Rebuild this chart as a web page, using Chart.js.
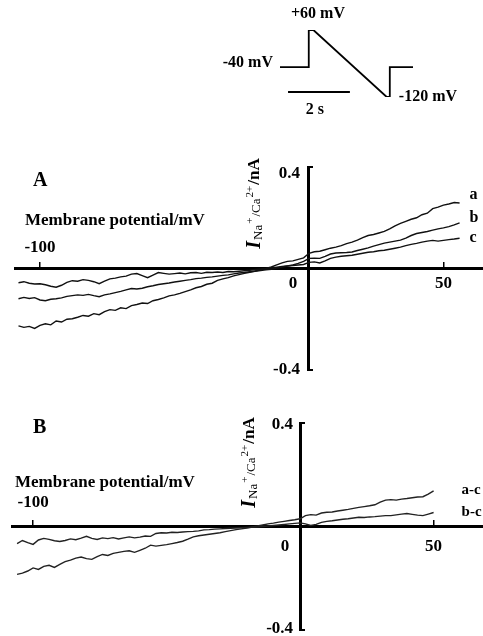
<!DOCTYPE html>
<html>
<head>
<meta charset="utf-8">
<script src="https://cdn.jsdelivr.net/npm/chart.js@4.4.0/dist/chart.umd.min.js"></script>
<style>
  body { margin: 0; background: #fff; }
  #wrap { position: relative; width: 483px; height: 636px; }
  .box { position: absolute; }
</style>
</head>
<body>
<div id="wrap">
  <div class="box" style="left:200px;top:0;width:283px;height:130px"><canvas id="protocolChart"></canvas></div>
  <div class="box" style="left:0;top:150px;width:483px;height:235px"><canvas id="chartA"></canvas></div>
  <div class="box" style="left:0;top:400px;width:483px;height:236px"><canvas id="chartB"></canvas></div>
</div>
<script>
// voltage protocol (s, mV)
var protocolTime = [0, 0.93, 0.93, 1.08, 3.45, 3.55, 3.55, 4.3];
var protocolVoltage = [-40, -40, 60, 60, -120, -120, -40, -40];
var scaleBarSeconds = 2;

var xTicks = [-100, 0, 50];
var yTicks = [-0.4, 0.4];

// panel A, membrane potential (mV)
var voltageA = [
  -108, -106, -104, -102, -100, -98, -96, -94, -92, -90,
  -88, -86, -84, -82, -80, -78, -76, -74, -72, -70,
  -68, -66, -64, -62, -60, -58, -56, -54, -52, -50,
  -48, -46, -44, -42, -40, -38, -36, -34, -32, -30,
  -28, -26, -24, -22, -20, -18, -16, -14, -12, -10,
  -8, -6, -4, -2, 0, 2, 4, 6, 8, 10,
  12, 14, 16, 18, 20, 22, 24, 26, 28, 30,
  32, 34, 36, 38, 40, 42, 44, 46, 48, 50,
  52, 54, 56
];
var currentA_a = [
  -0.226, -0.232, -0.228, -0.236, -0.224, -0.218, -0.222, -0.207, -0.211, -0.200,
  -0.198, -0.192, -0.185, -0.188, -0.178, -0.182, -0.170, -0.162, -0.165, -0.155,
  -0.158, -0.146, -0.142, -0.136, -0.138, -0.127, -0.122, -0.116, -0.108, -0.104,
  -0.098, -0.091, -0.084, -0.076, -0.071, -0.062, -0.058, -0.047, -0.041, -0.036,
  -0.029, -0.024, -0.019, -0.015, -0.010, -0.005, 0.000, 0.006, 0.014, 0.022,
  0.028, 0.030, 0.036, 0.042, 0.060, 0.066, 0.068, 0.074, 0.080, 0.084,
  0.090, 0.098, 0.104, 0.112, 0.122, 0.130, 0.134, 0.140, 0.146, 0.156,
  0.168, 0.178, 0.186, 0.194, 0.200, 0.212, 0.218, 0.236, 0.242, 0.250,
  0.254, 0.260, 0.258
];
var currentA_b = [
  -0.119, -0.114, -0.118, -0.115, -0.124, -0.127, -0.121, -0.119, -0.116, -0.110,
  -0.107, -0.104, -0.106, -0.102, -0.107, -0.111, -0.104, -0.100, -0.095, -0.090,
  -0.084, -0.079, -0.081, -0.078, -0.072, -0.068, -0.063, -0.060, -0.057, -0.053,
  -0.050, -0.047, -0.044, -0.040, -0.038, -0.035, -0.033, -0.030, -0.027, -0.025,
  -0.021, -0.018, -0.016, -0.013, -0.011, -0.008, -0.005, -0.003, 0.002, 0.006,
  0.010, 0.014, 0.020, 0.028, 0.040, 0.041, 0.040, 0.048, 0.057, 0.061,
  0.062, 0.063, 0.065, 0.071, 0.076, 0.081, 0.088, 0.094, 0.100, 0.104,
  0.108, 0.112, 0.120, 0.130, 0.138, 0.142, 0.146, 0.151, 0.156, 0.160,
  0.165, 0.172, 0.180
];
var currentA_c = [
  -0.056, -0.052, -0.058, -0.061, -0.060, -0.064, -0.070, -0.074, -0.066, -0.055,
  -0.048, -0.050, -0.044, -0.047, -0.052, -0.060, -0.050, -0.041, -0.038, -0.033,
  -0.030, -0.022, -0.020, -0.028, -0.036, -0.026, -0.016, -0.019, -0.022, -0.020,
  -0.018, -0.021, -0.017, -0.016, -0.019, -0.015, -0.016, -0.014, -0.016, -0.012,
  -0.013, -0.011, -0.009, -0.007, -0.004, -0.002, 0.000, 0.002, 0.005, 0.008,
  0.010, 0.012, 0.014, 0.016, 0.024, 0.026, 0.022, 0.030, 0.040, 0.045,
  0.048, 0.050, 0.052, 0.056, 0.060, 0.064, 0.066, 0.070, 0.072, 0.076,
  0.080, 0.084, 0.090, 0.095, 0.099, 0.104, 0.108, 0.111, 0.108, 0.111,
  0.114, 0.116, 0.119
];
var seriesLabelsA = ['a', 'b', 'c'];

// panel B, difference currents
var voltageB = [
  -106, -104, -102, -100, -98, -96, -94, -92, -90, -88,
  -86, -84, -82, -80, -78, -76, -74, -72, -70, -68,
  -66, -64, -62, -60, -58, -56, -54, -52, -50, -48,
  -46, -44, -42, -40, -38, -36, -34, -32, -30, -28,
  -26, -24, -22, -20, -18, -16, -14, -12, -10, -8,
  -6, -4, -2, 0, 2, 4, 6, 8, 10, 12,
  14, 16, 18, 20, 22, 24, 26, 28, 30, 32,
  34, 36, 38, 40, 42, 44, 46, 48, 50
];
var currentB_ac = [
  -0.185, -0.180, -0.172, -0.160, -0.166, -0.154, -0.150, -0.158, -0.146, -0.136,
  -0.130, -0.122, -0.118, -0.124, -0.127, -0.116, -0.108, -0.112, -0.104, -0.100,
  -0.096, -0.094, -0.100, -0.092, -0.084, -0.072, -0.076, -0.073, -0.070, -0.066,
  -0.062, -0.057, -0.049, -0.040, -0.036, -0.033, -0.030, -0.027, -0.024, -0.020,
  -0.016, -0.012, -0.009, -0.006, -0.002, 0.002, 0.006, 0.010, 0.013, 0.017,
  0.020, 0.023, 0.026, 0.030, 0.042, 0.046, 0.044, 0.052, 0.055, 0.056,
  0.060, 0.063, 0.066, 0.070, 0.074, 0.077, 0.080, 0.084, 0.094, 0.102,
  0.104, 0.102, 0.106, 0.108, 0.111, 0.114, 0.115, 0.125, 0.138
];
var currentB_bc = [
  -0.066, -0.054, -0.062, -0.069, -0.052, -0.046, -0.050, -0.055, -0.058, -0.054,
  -0.048, -0.051, -0.045, -0.038, -0.046, -0.050, -0.044, -0.047, -0.043, -0.048,
  -0.044, -0.040, -0.044, -0.041, -0.037, -0.038, -0.027, -0.024, -0.025, -0.022,
  -0.023, -0.021, -0.020, -0.019, -0.017, -0.013, -0.012, -0.010, -0.009, -0.008,
  -0.007, -0.006, -0.005, -0.004, -0.003, -0.002, 0.000, 0.002, 0.004, 0.006,
  0.008, 0.010, 0.012, 0.014, 0.010, 0.004, 0.008, 0.016, 0.020, 0.022,
  0.025, 0.028, 0.030, 0.033, 0.036, 0.035, 0.037, 0.038, 0.040, 0.042,
  0.042, 0.045, 0.048, 0.050, 0.047, 0.044, 0.042, 0.048, 0.054
];
var seriesLabelsB = ['a-c', 'b-c'];

var SERIF = '"Liberation Serif", "Times New Roman", serif';

function points(xs, ys) {
  return xs.map(function (v, i) { return { x: v, y: ys[i] }; });
}

function traceSet(xs, ys, label, color) {
  return { label: label, data: points(xs, ys), borderColor: color || '#111', borderWidth: 1.4, pointRadius: 0, tension: 0 };
}

// draws I_Na+/Ca2+/nA rotated
function drawCurrentTitle(ctx, cx, cy) {
  var parts = [
    { t: 'I', f: 'italic bold 20px ' + SERIF, dy: 0 },
    { t: 'Na', f: '13px ' + SERIF, dy: 4 },
    { t: '+', f: '11px ' + SERIF, dy: -5 },
    { t: '/Ca', f: '13px ' + SERIF, dy: 2 },
    { t: '2+', f: '11px ' + SERIF, dy: -5 },
    { t: '/nA', f: 'bold 17px ' + SERIF, dy: 0 }
  ];
  ctx.save();
  ctx.translate(cx, cy);
  ctx.rotate(-Math.PI / 2);
  var total = 0;
  parts.forEach(function (p) { ctx.font = p.f; p.w = ctx.measureText(p.t).width + 1; total += p.w; });
  var x = -total / 2;
  ctx.textBaseline = 'middle';
  ctx.textAlign = 'left';
  parts.forEach(function (p) { ctx.font = p.f; ctx.fillText(p.t, x, p.dy); x += p.w; });
  ctx.restore();
}

function ivDecor(cfg) {
  return {
    id: 'ivDecor',
    afterDraw: function (chart) {
      var ctx = chart.ctx, xs = chart.scales.x, ys = chart.scales.y;
      var x0 = xs.getPixelForValue(0), y0 = ys.getPixelForValue(0);
      ctx.save();
      ctx.fillStyle = '#000';
      ctx.textBaseline = 'middle';
      ctx.font = 'bold 17px ' + SERIF;
      xTicks.forEach(function (v) {
        var px = xs.getPixelForValue(v);
        ctx.textAlign = 'center';
        if (v < 0) ctx.fillText(String(v), px, y0 + cfg.aboveDy);
        else if (v === 0) ctx.fillText('0', x0 + cfg.zeroDx, y0 + cfg.belowDy);
        else ctx.fillText(String(v), px, y0 + cfg.belowDy);
      });
      ctx.textAlign = 'right';
      yTicks.forEach(function (v) {
        var py = ys.getPixelForValue(v);
        ctx.fillText(v.toFixed(1), x0 + cfg.yLabelDx, py + (v > 0 ? cfg.topDy : cfg.bottomDy));
      });
      // panel letter and axis titles
      ctx.textAlign = 'left';
      ctx.font = 'bold 20px ' + SERIF;
      ctx.fillText(cfg.letter, cfg.letterX, cfg.letterY);
      ctx.font = 'bold 17px ' + SERIF;
      ctx.fillText('Membrane potential/mV', cfg.titleX, cfg.titleY);
      drawCurrentTitle(ctx, cfg.yTitleX, cfg.yTitleY);
      // trace labels at the trace ends
      ctx.font = cfg.seriesFont;
      chart.data.datasets.forEach(function (ds, i) {
        var last = ds.data[ds.data.length - 1];
        ctx.fillText(ds.label, xs.getPixelForValue(last.x) + cfg.seriesDx, ys.getPixelForValue(last.y) + cfg.seriesDy[i]);
      });
      ctx.restore();
    }
  };
}

function ivOptions(xMin, xMax, pad) {
  return {
    responsive: true,
    maintainAspectRatio: false,
    animation: false,
    layout: { padding: pad },
    plugins: { legend: { display: false }, tooltip: { enabled: false } },
    scales: {
      x: {
        type: 'linear', min: xMin, max: xMax, position: { y: 0 },
        afterBuildTicks: function (s) { s.ticks = xTicks.map(function (v) { return { value: v }; }); },
        ticks: { display: false },
        grid: { drawOnChartArea: false, tickLength: -8, lineWidth: 1.5, color: '#000' },
        border: { width: 3, color: '#000' }
      },
      y: {
        type: 'linear', min: -0.4, max: 0.4, position: { x: 0 },
        afterBuildTicks: function (s) { s.ticks = yTicks.map(function (v) { return { value: v }; }); },
        ticks: { display: false },
        grid: { drawOnChartArea: false, tickLength: -6, lineWidth: 2, color: '#000' },
        border: { width: 3, color: '#000' }
      }
    }
  };
}

document.addEventListener('DOMContentLoaded', function () {
  // protocol inset
  new Chart(document.getElementById('protocolChart').getContext('2d'), {
    type: 'line',
    data: { datasets: [{ data: points(protocolTime, protocolVoltage), borderColor: '#000', borderWidth: 1.8, pointRadius: 0, tension: 0 }] },
    options: {
      responsive: true, maintainAspectRatio: false, animation: false,
      layout: { padding: { left: 80, right: 70, top: 30, bottom: 33 } },
      plugins: { legend: { display: false }, tooltip: { enabled: false } },
      scales: {
        x: { type: 'linear', min: 0, max: 4.3, display: false },
        y: { type: 'linear', min: -120, max: 60, display: false }
      }
    },
    plugins: [{
      id: 'protocolLabels',
      afterDraw: function (chart) {
        var ctx = chart.ctx, xs = chart.scales.x, ys = chart.scales.y;
        ctx.save();
        ctx.fillStyle = '#000';
        ctx.strokeStyle = '#000';
        ctx.font = 'bold 16px ' + SERIF;
        ctx.textBaseline = 'middle';
        ctx.textAlign = 'center';
        ctx.fillText('+60 mV', xs.getPixelForValue(1.0) + 7, ys.getPixelForValue(60) - 16);
        ctx.textAlign = 'right';
        ctx.fillText('-40 mV', xs.getPixelForValue(0) - 7, ys.getPixelForValue(-40) - 4);
        ctx.textAlign = 'left';
        ctx.fillText('-120 mV', xs.getPixelForValue(3.55) + 9, ys.getPixelForValue(-120));
        // 2 s scale bar
        var bx1 = xs.getPixelForValue(0.26), bx2 = xs.getPixelForValue(0.26 + scaleBarSeconds);
        var by = ys.getPixelForValue(-120) - 5;
        ctx.lineWidth = 1.8;
        ctx.beginPath(); ctx.moveTo(bx1, by); ctx.lineTo(bx2, by); ctx.stroke();
        ctx.textAlign = 'center';
        ctx.fillText(scaleBarSeconds + ' s', (bx1 + bx2) / 2 - 4, by + 18);
        ctx.restore();
      }
    }]
  });

  new Chart(document.getElementById('chartA').getContext('2d'), {
    type: 'line',
    data: {
      datasets: [
        traceSet(voltageA, currentA_a, seriesLabelsA[0]),
        traceSet(voltageA, currentA_b, seriesLabelsA[1]),
        traceSet(voltageA, currentA_c, seriesLabelsA[2])
      ]
    },
    options: ivOptions(-109.3, 64.7, { left: 15, right: 0, top: 17, bottom: 15 }),
    plugins: [ivDecor({
      letter: 'A', letterX: 33, letterY: 31,
      titleX: 25, titleY: 71,
      yTitleX: 255, yTitleY: 53,
      aboveDy: -21, belowDy: 15, zeroDx: -16,
      yLabelDx: -9, topDy: 7, bottomDy: 0,
      seriesFont: 'bold 16px ' + SERIF,
      seriesDx: 10, seriesDy: [-8, -5, 0]
    })]
  });

  new Chart(document.getElementById('chartB').getContext('2d'), {
    type: 'line',
    data: {
      datasets: [
        traceSet(voltageB, currentB_ac, seriesLabelsB[0], '#222'),
        traceSet(voltageB, currentB_bc, seriesLabelsB[1], '#222')
      ]
    },
    options: ivOptions(-107.9, 68.5, { left: 12, right: 0, top: 23, bottom: 6 }),
    plugins: [ivDecor({
      letter: 'B', letterX: 33, letterY: 28,
      titleX: 15, titleY: 83,
      yTitleX: 250, yTitleY: 62,
      aboveDy: -24, belowDy: 20, zeroDx: -15,
      yLabelDx: -7, topDy: 2, bottomDy: -1,
      seriesFont: 'bold 15px ' + SERIF,
      seriesDx: 28, seriesDy: [-1, 0]
    })]
  });
});
</script>
</body>
</html>
